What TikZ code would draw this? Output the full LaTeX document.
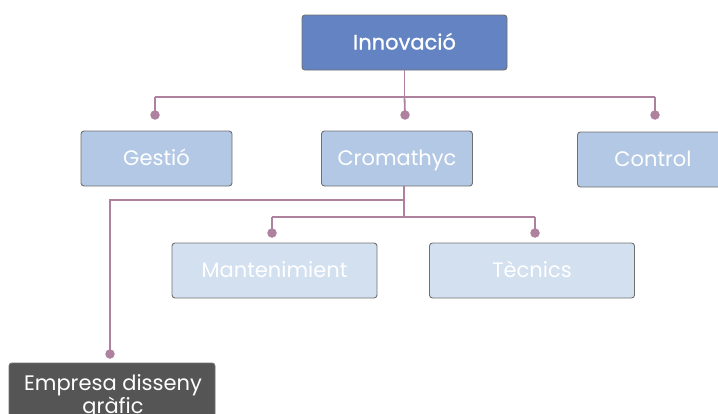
\documentclass[tikz,border=0pt]{standalone}
\usepackage{fontspec}
\setmainfont{Poppins}
\definecolor{topfill}{HTML}{6383C2}
\definecolor{midfill}{HTML}{B3C8E4}
\definecolor{lowfill}{HTML}{D3E0F0}
\definecolor{darkfill}{HTML}{555555}
\definecolor{edge}{HTML}{707070}
\definecolor{linkc}{HTML}{AE819F}
\tikzset{
  box/.style={draw=edge, line width=0.9pt, rounded corners=3pt, inner sep=0pt,
    text=white, font=\fontsize{21}{24}\selectfont, minimum height=55pt,
    text height=15pt, text depth=1pt},
  topbox/.style={box, fill=topfill, minimum width=205pt},
  midbox/.style={box, fill=midfill, minimum width=151pt},
  lowbox/.style={box, fill=lowfill, minimum width=205pt},
  darkbox/.style={box, fill=darkfill, minimum width=206pt, minimum height=70pt},
  link/.style={draw=linkc, line width=1.8pt},
  dot/.style={circle, fill=linkc, inner sep=0pt, minimum size=9.5pt}
}
\begin{document}
\begin{tikzpicture}[x=1pt,y=-1pt]
\useasboundingbox (0,0) rectangle (718,413);
\begin{scope}
\clip (0,0) rectangle (718,413);

% boxes
\node[topbox] (innov) at (404.5,42.5) {\addfontfeatures{FakeBold=1}Innovació};
\node[midbox] (gestio) at (156.5,158.5) {Gestió};
\node[midbox] (crom) at (397,158.5) {Cromathyc};
\node[midbox] (control) at (653,159.5) {Control};
\node[lowbox] (mant) at (274.5,270.5) {Mantenimient};
\node[lowbox] (tecn) at (532,270.5) {Tècnics};
\node[darkbox] (emp) at (112,398) {};
\node[text=white, font=\fontsize{21}{20}\selectfont, align=center, inner sep=0pt,
      anchor=base] (emptext) at (113,413) {Empresa disseny\\gràfic};

% first level bus
\coordinate (j1) at (innov.south |- 0,97);
\coordinate (bl) at (155,97);
\coordinate (br) at (655,97);
\node[dot] (dg) at (155,115) {};
\node[dot] (dc) at (405,115) {};
\node[dot] (dr) at (655,115) {};
\draw[link] (innov.south) -- (j1);
\draw[link] (bl) -- (br);
\draw[link] (bl) -- (dg.center);
\draw[link] (j1) -- (dc.center);
\draw[link] (br) -- (dr.center);

% second level bus
\coordinate (c0) at (404,186);
\coordinate (c1) at (404,200);
\coordinate (c2) at (404,217);
\coordinate (ea) at (110,200);
\coordinate (ml) at (272,217);
\coordinate (tr) at (535,217);
\node[dot] (de) at (110,354) {};
\node[dot] (dm) at (272,233) {};
\node[dot] (dt) at (535,233) {};
\draw[link] (c0) -- (c2);
\draw[link] (c1) -- (ea) -- (de.center);
\draw[link] (ml) -- (tr);
\draw[link] (ml) -- (dm.center);
\draw[link] (tr) -- (dt.center);
\end{scope}
\end{tikzpicture}
\end{document}
